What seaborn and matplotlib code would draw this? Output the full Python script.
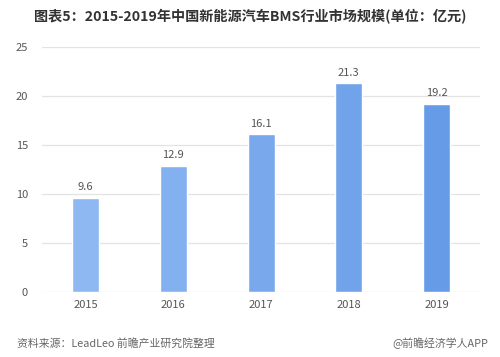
import matplotlib
matplotlib.use("Agg")
import matplotlib.pyplot as plt
import seaborn as sns
import pandas as pd

years = ["2015", "2016", "2017", "2018", "2019"]
values = [9.6, 12.9, 16.1, 21.3, 19.2]
bar_colors = ["#8DB8F2", "#83B0EF", "#79A9EC", "#70A3EA", "#669CE7"]
yticks = [0, 5, 10, 15, 20, 25]
title = "图表5：2015-2019年中国新能源汽车BMS行业市场规模(单位：亿元)"
source = "资料来源：LeadLeo 前瞻产业研究院整理"
credit = "@前瞻经济学人APP"

sns.set_theme(style="white")
plt.rcParams['font.family'] = ['Noto Sans CJK SC', 'DejaVu Sans']

df = pd.DataFrame({"year": years, "value": values})

fig = plt.figure(figsize=(5.0, 3.57), dpi=100)
ax = fig.add_axes([0.0836, 0.182, 0.8772, 0.686])
sns.barplot(data=df, x="year", y="value", hue="year", palette=bar_colors,
            legend=False, width=0.31, ax=ax, saturation=1)

ax.set_xlim(-0.5, 4.5)
ax.set_ylim(0, 25)
ax.set_yticks(yticks)
ax.yaxis.grid(True, color="#E3E3E3", linewidth=0.9)
ax.set_axisbelow(True)
for s in ax.spines.values():
    s.set_visible(False)
ax.set_xlabel("")
ax.set_ylabel("")
ax.tick_params(axis="both", length=0, labelsize=8, labelcolor="#555555")
ax.tick_params(axis="y", pad=10)
ax.tick_params(axis="x", pad=6)

for c in ax.containers:
    ax.bar_label(c, labels=[f"{v:.1f}" for v in c.datavalues], padding=4,
                 fontsize=8, color="#555555")

fig.text(0.5, 0.953, title, ha="center", va="center", fontsize=10.2,
         fontweight="bold", color="#333333")
fig.text(0.034, 0.038, source, ha="left", va="center", fontsize=7.8, color="#666666")
fig.text(0.976, 0.038, credit, ha="right", va="center", fontsize=7.8, color="#666666")

fig.savefig("out.png", dpi=100)
